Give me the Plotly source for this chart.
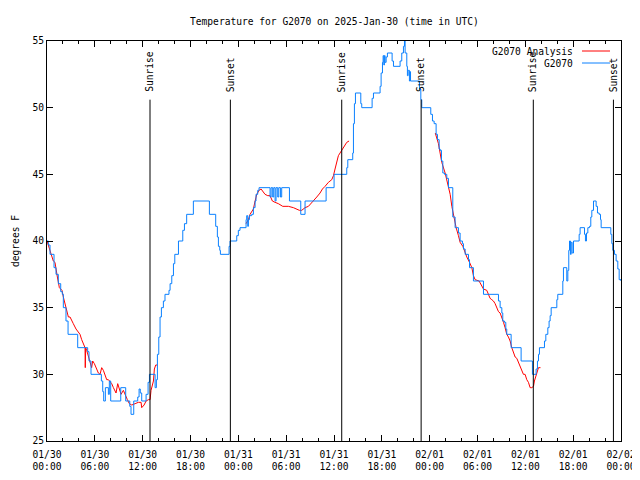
import plotly.graph_objects as go
from datetime import datetime, timedelta

BASE = datetime(2025, 1, 30, 0, 0)

# ---- data (hours since 2025-01-30 00:00 UTC, degrees F) ----
obs_hours = [0.00, 0.17, 0.38, 0.88, 1.13, 1.42, 1.72, 1.92, 2.05, 2.38, 2.64, 3.85, 5.10, 5.27, 5.52,
             6.82, 6.99, 7.11, 7.32, 7.70, 7.82, 7.99, 9.25, 9.87, 10.38, 10.54, 10.88, 11.38, 11.55,
             11.70, 11.88, 12.43, 12.68, 12.85, 13.56, 13.72, 13.85, 14.02, 14.18, 14.35, 14.60, 14.80,
             15.30, 15.44, 15.65, 15.86, 16.03, 16.49, 17.03, 17.24, 17.52, 18.36, 20.37, 21.16, 21.37,
             21.50, 21.67, 21.75, 22.84, 22.96, 23.80, 24.00, 24.21, 24.97, 25.05, 25.18, 25.26, 25.39,
             25.68, 25.89, 26.10, 26.22, 26.43, 26.60, 27.98, 28.11, 28.31, 28.44, 28.61, 28.73, 28.94,
             29.07, 29.28, 29.44, 30.41, 31.83, 32.37, 35.01, 36.01, 37.60, 37.73, 38.35, 38.44, 38.56,
             38.69, 39.36, 39.48, 40.78, 40.95, 41.78, 41.91, 42.08, 42.16, 42.25, 42.32, 42.41, 42.54,
             42.70, 43.29, 43.46, 44.29, 44.50, 44.71, 44.84, 44.92, 45.13, 45.21, 45.30, 45.46, 45.55,
             45.60, 46.72, 46.89, 47.01, 48.14, 48.35, 48.56, 48.81, 48.98, 49.19, 49.31, 49.48, 49.65,
             49.86, 50.15, 50.36, 50.90, 51.19, 51.61, 51.82, 52.11, 52.24, 52.45, 52.87, 53.00, 53.49,
             54.75, 56.63, 56.84, 57.05, 57.17, 57.38, 57.55, 57.67, 58.22, 59.47, 60.89, 61.35, 61.52,
             61.65, 61.77, 62.40, 62.57, 62.82, 62.98, 63.11, 63.24, 63.95, 64.07, 64.70, 64.78, 65.20,
             65.33, 65.45, 65.54, 65.66, 65.75, 65.87, 66.04, 66.75, 66.87, 67.42, 67.54, 67.67, 67.84,
             68.05, 68.21, 68.34, 68.55, 68.88, 69.05, 69.26, 69.43, 69.51, 70.72, 70.85, 70.97, 71.18,
             71.39, 71.60, 71.77, 72.00]
obs_temps = [40.0, 39.7, 39.0, 38.0, 37.5, 36.8, 36.2, 36.0, 35.0, 34.0, 33.0, 32.0, 31.7, 31.0, 30.0,
             29.5, 28.7, 28.0, 29.0, 28.5, 29.5, 28.0, 29.0, 28.0, 27.6, 27.0, 28.0, 28.3, 28.9,
             28.6, 28.0, 28.5, 29.4, 30.0, 29.0, 29.6, 31.5, 32.8, 34.3, 35.0, 35.5, 36.0,
             36.3, 36.8, 37.4, 38.3, 39.0, 40.0, 40.8, 41.3, 42.0, 43.0, 42.0, 41.1, 40.3,
             39.6, 39.3, 39.0, 39.6, 40.0, 40.4, 40.8, 41.0, 41.6, 41.9, 41.1, 41.6, 41.9,
             42.0, 42.5, 43.0, 43.5, 43.8, 44.0, 43.3, 44.0, 43.3, 44.0, 43.0, 44.0, 43.3,
             44.0, 43.3, 44.0, 43.0, 42.0, 43.0, 44.0, 45.0, 45.5, 46.1, 46.6, 48.8, 50.3,
             51.1, 50.3, 50.0, 50.7, 51.1, 51.6, 52.6, 53.4, 53.9, 53.2, 53.9, 53.4, 53.8,
             54.1, 53.5, 53.1, 53.5, 54.1, 54.6, 55.0, 54.1, 53.1, 52.4, 52.8, 52.0, 52.7,
             52.0, 51.4, 50.6, 50.0, 49.5, 49.0, 48.8, 48.0, 47.6, 46.9, 46.8, 46.0, 45.1,
             45.0, 44.7, 44.0, 41.8, 41.0, 40.6, 40.0, 39.8, 39.4, 39.0, 38.6, 38.0, 37.0,
             36.0, 35.5, 35.0, 34.6, 34.0, 33.9, 33.4, 33.0, 32.0, 31.0, 30.0, 30.4, 31.0,
             31.5, 32.0, 32.5, 33.0, 33.5, 34.0, 34.4, 35.0, 35.6, 36.0, 37.0, 38.0, 37.0,
             37.8, 39.3, 40.0, 39.0, 39.9, 39.1, 40.0, 40.5, 41.0, 40.5, 40.0, 40.6, 41.0,
             41.1, 41.8, 42.3, 43.0, 42.6, 42.1, 42.0, 41.6, 41.0, 40.5, 39.8, 39.3, 39.0,
             38.5, 37.9, 37.1, 37.0]

ana1_hours = [0.00, 0.38, 0.67, 0.79, 1.00, 1.13, 1.30, 1.55, 1.72, 1.88, 2.05, 2.26, 2.47, 2.68, 2.89,
              3.10, 3.30, 3.64, 3.93, 4.14, 4.35, 4.56, 4.77, 4.80, 4.85, 4.98, 5.19, 5.40, 5.60, 5.73,
              5.94, 6.23, 6.44, 6.65, 6.86, 7.07, 7.28, 7.49, 7.70, 8.12, 8.33, 8.54, 8.66, 8.87, 9.08,
              9.29, 9.58, 9.87, 10.08, 10.33, 10.63, 11.05, 11.46, 11.80, 11.88, 12.18, 12.43, 12.72,
              12.93, 13.05, 13.20, 13.35, 13.47, 13.64, 13.85]
ana1_temps = [40.0, 39.3, 38.6, 38.5, 38.4, 37.8, 37.3, 36.5, 36.4, 36.3, 35.8, 35.3, 34.6, 34.3, 34.3,
              34.0, 33.8, 33.4, 33.2, 33.0, 32.6, 32.3, 32.0, 30.5, 32.0, 31.8, 31.3, 30.9, 30.5, 31.0,
              30.8, 30.4, 30.1, 30.0, 30.5, 30.3, 29.9, 29.6, 29.6, 29.3, 29.0, 28.8, 28.6, 29.3, 28.9,
              28.5, 28.8, 28.3, 28.1, 27.8, 27.7, 27.8, 27.9, 27.9, 27.5, 27.7, 28.0, 28.1,
              28.1, 28.8, 29.3, 29.5, 30.4, 30.7, 30.7]

ana2_hours = [24.97, 25.26, 25.47, 25.89, 26.10, 26.31, 26.60, 26.85, 27.35, 27.69, 27.98, 28.27, 28.61,
              29.02, 29.57, 30.28, 30.91, 31.33, 31.66, 31.95, 32.37, 32.79, 33.12, 33.42, 33.84, 34.25,
              34.55, 34.88, 35.30, 35.72, 35.93, 36.13, 36.34, 36.55, 36.76, 36.97, 37.18, 37.39, 37.60,
              37.89]
ana2_temps = [41.3, 41.6, 42.0, 42.4, 43.0, 43.5, 43.8, 43.9, 43.5, 43.4, 43.4, 43.0, 42.9,
              42.8, 42.6, 42.6, 42.5, 42.4, 42.3, 42.3, 42.5, 42.6, 42.8, 43.0, 43.3, 43.6,
              43.9, 44.1, 44.4, 44.6, 44.9, 45.4, 46.0, 46.4, 46.6, 46.8, 47.0, 47.3, 47.4,
              47.5]

ana3_hours = [48.70, 49.10, 49.31, 49.52, 49.94, 50.15, 50.36, 50.57, 50.78, 50.98, 51.32, 51.61, 51.82,
              52.16, 52.45, 52.66, 53.00, 53.29, 53.49, 53.70, 54.20, 54.54, 54.75, 55.16, 55.37, 55.58,
              55.79, 56.00, 56.21, 56.42, 56.63, 56.84, 57.05, 57.26, 57.46, 57.67, 57.88, 58.09, 58.30,
              58.51, 58.72, 58.93, 59.14, 59.35, 59.56, 59.76, 59.97, 60.18, 60.39, 60.60, 60.81, 61.02,
              61.14, 61.31, 61.48, 61.65, 61.90]
ana3_temps = [48.1, 47.3, 46.6, 45.9, 45.1, 44.6, 44.1, 43.5, 42.6, 41.9, 41.0, 40.4, 39.9,
              39.6, 39.1, 38.8, 38.4, 38.0, 37.4, 37.1, 37.0, 36.6, 36.4, 36.3, 36.0, 35.7,
              35.6, 35.5, 35.3, 35.0, 34.7, 34.6, 34.3, 33.9, 33.5, 33.0, 32.8, 32.5, 32.0,
              31.6, 31.3, 31.2, 30.9, 30.5, 30.2, 30.0, 30.0, 29.6, 29.4, 29.0, 29.0, 29.1,
              29.5, 29.9, 30.3, 30.5, 30.5]

sunrise_hours = [12.92, 36.97, 61.00]
sunset_hours = [23.00, 46.93, 71.05]
sun_line_top = 50.6
sun_label_base = 51.0

tick_hours = list(range(0, 73, 6))

FONT = "DejaVu Sans Mono"
FS = 9.6


def to_time(hours):
    return [BASE + timedelta(hours=h) for h in hours]


ana_x, ana_y = [], []
for hs, ts in [(ana1_hours, ana1_temps), (ana2_hours, ana2_temps), (ana3_hours, ana3_temps)]:
    if ana_x:
        ana_x.append(None)
        ana_y.append(None)
    ana_x += to_time(hs)
    ana_y += ts

fig = go.Figure()
fig.add_trace(go.Scatter(x=ana_x, y=ana_y, mode="lines", name="G2070 Analysis",
                         line=dict(color="#ff0000", width=1), connectgaps=False))
fig.add_trace(go.Scatter(x=to_time(obs_hours), y=obs_temps, mode="lines", name="G2070",
                         line=dict(color="#0a80ff", width=1, shape="hv")))

shapes = []
annotations = []
for lbl, hs in [("Sunrise", sunrise_hours), ("Sunset", sunset_hours)]:
    for t in to_time(hs):
        shapes.append(dict(type="line", xref="x", yref="y", x0=t, x1=t, y0=25, y1=sun_line_top,
                           line=dict(color="black", width=1)))
        annotations.append(dict(x=t, y=sun_label_base, xref="x", yref="y", text=lbl, textangle=-90,
                                showarrow=False, xanchor="center", yanchor="bottom",
                                font=dict(family=FONT, size=FS, color="black")))

# legend (gnuplot style: text right-aligned, sample line to the right)
for i, (name, col) in enumerate([("G2070 Analysis", "#ff0000"), ("G2070", "#0a80ff")]):
    yy = 1 - (10 + 12 * i) / 400
    annotations.append(dict(xref="paper", yref="paper", x=1, y=yy, xshift=-46, text=name,
                            showarrow=False, xanchor="right", yanchor="middle",
                            font=dict(family=FONT, size=FS, color="black")))
    shapes.append(dict(type="line", xref="paper", yref="paper", x0=(582 - 47) / 574, x1=(610 - 47) / 574,
                       y0=yy, y1=yy, line=dict(color=col, width=1)))

annotations.append(dict(xref="paper", yref="paper", x=0.5, y=1, yshift=20, text="Temperature for G2070 on 2025-Jan-30 (time in UTC)",
                        showarrow=False, xanchor="center", yanchor="middle",
                        font=dict(family=FONT, size=FS, color="black")))
annotations.append(dict(xref="paper", yref="paper", x=0, y=0.5, xshift=-32, text="degrees F", textangle=-90,
                        showarrow=False, xanchor="center", yanchor="middle",
                        font=dict(family=FONT, size=FS, color="black")))

tick_times = to_time(tick_hours)
tick_text = [t.strftime("%m/%d") + "<br>" + t.strftime("%H:%M") for t in tick_times]

# the page adds an 8px body margin, so the margins are offset to keep the frame at 47..621 x 40..440
fig.update_layout(
    width=640, height=480,
    margin=dict(l=39, r=27, t=33, b=47),
    paper_bgcolor="white", plot_bgcolor="white",
    showlegend=False,
    shapes=shapes, annotations=annotations,
    font=dict(family=FONT, size=FS, color="black"),
    xaxis=dict(type="date", range=[BASE, BASE + timedelta(hours=72)], tickvals=tick_times, ticktext=tick_text,
               ticks="inside", ticklen=6, tickcolor="black", showline=True, linecolor="black", linewidth=1,
               mirror="ticks", showgrid=False, zeroline=False, automargin=False, ticklabelstandoff=4,
               minor=dict(dtick=2 * 3600 * 1000, tick0=BASE, ticks="inside", ticklen=3, tickcolor="black", showgrid=False),
               tickfont=dict(family=FONT, size=FS, color="black")),
    yaxis=dict(range=[25, 55], dtick=5, tick0=25, ticks="inside", ticklen=6, tickcolor="black",
               showline=True, linecolor="black", linewidth=1, mirror="ticks", showgrid=False,
               zeroline=False, automargin=False, tickfont=dict(family=FONT, size=FS, color="black")),
)

fig.write_html("out.html")
